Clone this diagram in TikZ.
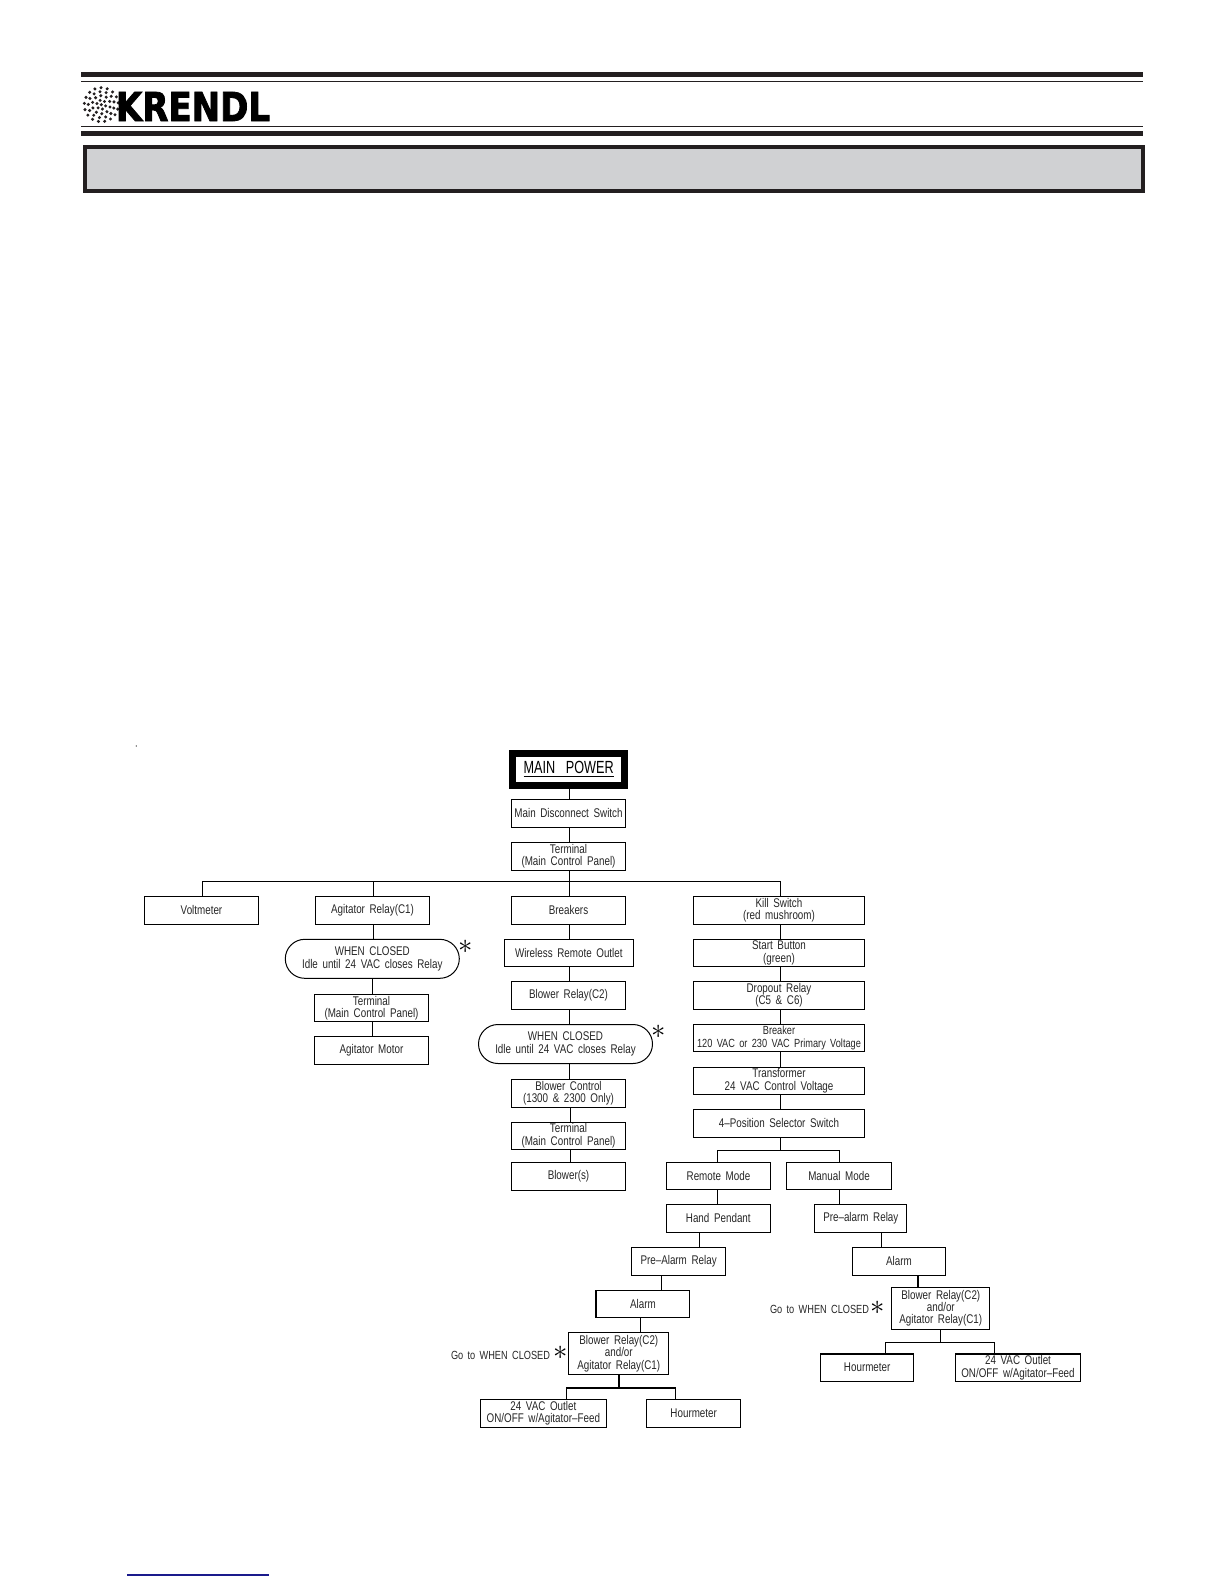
\documentclass[tikz,border=0pt]{standalone}
\usepackage{fontspec}
\usetikzlibrary{shapes.misc}
\setmainfont[FakeStretch=0.78,WordSpace=1.7]{Liberation Sans}
\newfontfamily\titlefont[FakeStretch=0.72,WordSpace=1.5]{Liberation Sans}
\newfontfamily\logofont[FakeStretch=0.85,FakeBold=2]{DejaVu Sans Bold}
\definecolor{barblack}{HTML}{231F20}
\definecolor{panelgray}{HTML}{D0D1D3}
\definecolor{linkblue}{HTML}{1A1A8C}
\tikzset{
  wire/.style={line width=0.55bp,black},
  labeltext/.style={font=\fontsize{6.3bp}{6.2bp}\selectfont,text=black!85,align=center,inner sep=0pt},
  tightfont/.style={font=\fontsize{5.9bp}{6.2bp}\selectfont},
  box/.style 2 args={draw=black,line width=0.55bp,labeltext,minimum width=#1*0.5bp,minimum height=#2*0.5bp},
  capsule/.style={draw=black,line width=0.5bp,labeltext,rounded rectangle,minimum width=174*0.5bp,minimum height=39*0.5bp},
  starmark/.style={font=\fontsize{15bp}{15bp}\selectfont,inner sep=0pt},
}
\begin{document}
\begin{tikzpicture}[x=0.5bp,y=-0.5bp]
  \useasboundingbox (0,0) rectangle (1224,1584);
  % page header
  \fill[barblack] (81,72) rectangle (1143,77);
  \fill[barblack] (81,131) rectangle (1143,136);
  \draw[line width=0.55bp,barblack] (81,81.3) -- (1143,81.3);
  \draw[line width=0.55bp,barblack] (81,126.3) -- (1143,126.3);
  \draw[line width=2bp,barblack,fill=panelgray] (84.7,147) rectangle (1143,191);
  \fill[barblack] (101.3,104.7) circle (1.7);
  \foreach \ring/\num in {4.5/6,9/10,13/13,17/17}
    \foreach \k in {1,...,\num}
      \fill[barblack] ({101.3+\ring*cos(360*\k/\num+15)},{104.7+\ring*sin(360*\k/\num+15)}) circle (1.7);
  \node[font=\logofont\fontsize{20bp}{20bp}\selectfont,text=black,inner sep=0pt] (logo) at (193,106.5) {KRENDL};
  \fill (136.3,746) circle (0.6);
  \draw[line width=0.9bp,linkblue] (127,1575) -- (269,1575);
  % top of the tree
  \node[draw=black,line width=3.5bp,font=\titlefont\fontsize{8.8bp}{8.8bp}\selectfont,inner sep=0pt,minimum width=112.5*0.5bp,minimum height=32*0.5bp] (power) at (568.7,769.5) {\underline{MAIN\ \ POWER}};
  \node[box={114.4}{28.3}] (disc) at (568.5,813.2) {Main Disconnect Switch};
  \node[box={114.4}{28}] (term) at (568.5,856.3) {Terminal\\(Main Control Panel)};
  % first row
  \node[box={114.4}{28}] (volt) at (201.5,910.3) {Voltmeter};
  \node[box={114.4}{28}] (agit) at (372.5,910.3) {Agitator Relay(C1)};
  \node[box={114.4}{28}] (brk) at (568.5,910.3) {Breakers};
  \node[box={171.4}{28}] (kill) at (779,910.3) {Kill Switch\\(red mushroom)};
  % agitator column
  \node[capsule] (wcA) at (372.3,958.8) {WHEN CLOSED\\Idle until 24 VAC closes Relay};
  \node[starmark] (starA) at (465.7,946.7) {$\ast$};
  \node[box={114.4}{27.4}] (termA) at (371.5,1008) {Terminal\\(Main Control Panel)};
  \node[box={114.4}{28}] (motor) at (371.5,1050.3) {Agitator Motor};
  % breaker column
  \node[box={129}{27.4}] (wireless) at (568.8,953) {Wireless Remote Outlet};
  \node[box={114.4}{28}] (blowrel) at (568.5,995.3) {Blower Relay(C2)};
  \node[capsule] (wcB) at (565.5,1044) {WHEN CLOSED\\Idle until 24 VAC closes Relay};
  \node[starmark] (starB) at (659,1032) {$\ast$};
  \node[box={114.4}{28}] (blowctl) at (568.5,1093.3) {Blower Control\\(1300 \& 2300 Only)};
  \node[box={114.4}{27}] (termB) at (568.5,1135.8) {Terminal\\(Main Control Panel)};
  \node[box={114.4}{27.7}] (blowers) at (568.5,1176.2) {Blower(s)};
  % kill switch column
  \node[box={171.4}{27.4}] (start) at (779,953) {Start Button\\(green)};
  \node[box={171.4}{28}] (drop) at (779,995.3) {Dropout Relay\\(C5 \& C6)};
  \node[box={171.4}{27.4},tightfont] (brkr) at (779,1038) {Breaker\\120 VAC or 230 VAC Primary Voltage};
  \node[box={171.4}{27}] (xfmr) at (779,1080.8) {Transformer\\24 VAC Control Voltage};
  \node[box={171.4}{28}] (sel) at (779,1123.3) {4--Position Selector Switch};
  \node[box={104.4}{27}] (rmode) at (718.5,1175.8) {Remote Mode};
  \node[box={105.4}{27}] (mmode) at (839,1175.8) {Manual Mode};
  % remote branch
  \node[box={104}{28}] (hand) at (718.3,1218.3) {Hand Pendant};
  \node[box={94}{28}] (prelL) at (678.6,1261.3) {Pre--Alarm Relay};
  \node[box={93.8}{27.4}] (alarmL) at (642.9,1304) {Alarm};
  \node[box={100}{42.4}] (blockL) at (618.8,1353.5) {Blower Relay(C2)\\and/or\\Agitator Relay(C1)};
  \node[labeltext,tightfont] (gotoL) at (500.5,1355.7) {Go to WHEN CLOSED};
  \node[starmark] (starC) at (560.5,1353.3) {$\ast$};
  \node[box={125.8}{28}] (vacL) at (543.3,1413.3) {24 VAC Outlet\\ON/OFF w/Agitator--Feed};
  \node[box={93.7}{28}] (hourL) at (693.7,1413.3) {Hourmeter};
  % manual branch
  \node[box={92}{28}] (prelR) at (860.8,1218.3) {Pre--alarm Relay};
  \node[box={93}{28}] (alarmR) at (899,1261.3) {Alarm};
  \node[box={98}{42}] (blockR) at (940.8,1308.3) {Blower Relay(C2)\\and/or\\Agitator Relay(C1)};
  \node[labeltext,tightfont] (gotoR) at (819.5,1309.3) {Go to WHEN CLOSED};
  \node[starmark] (starD) at (877.6,1308) {$\ast$};
  \node[box={93.3}{27.3}] (hourR) at (867.2,1367.6) {Hourmeter};
  \node[box={125}{27.3}] (vacR) at (1018,1367.6) {24 VAC Outlet\\ON/OFF w/Agitator--Feed};
  % straight links, with the x of each stem
  \foreach \from/\to/\sx in {power/disc/569.3,disc/term/569.3,agit/wcA/373.3,wcA/termA/372.3,termA/motor/372.3,
      brk/wireless/569.3,wireless/blowrel/569.3,blowrel/wcB/569.3,wcB/blowctl/569.3,blowctl/termB/570.3,termB/blowers/570.3,
      kill/start/780.3,start/drop/780.3,drop/brkr/780.3,brkr/xfmr/780.3,xfmr/sel/780.3,
      rmode/hand/717.8,mmode/prelR/839.3,hand/prelL/699.9,prelL/alarmL/661.5,alarmL/blockL/640.3,
      prelR/alarmR/881.7,alarmR/blockR/918}{
    \coordinate (stem) at (\sx,0);
    \draw[wire] (\from.south -| stem) -- (\to.north -| stem);
  }
  % bus under the terminal
  \coordinate (busL) at (202.3,881.3);
  \coordinate (busR) at (780.3,881.3);
  \draw[wire] (busL) -- (busR);
  \foreach \to/\sx in {volt/202.3,agit/373.3,kill/780.3}{
    \coordinate (stem) at (\sx,0);
    \draw[wire] (stem |- busL) -- (\to.north -| stem);
  }
  \coordinate (stem) at (569.3,0);
  \draw[wire] (term.south -| stem) -- (brk.north -| stem);
  % forks
  \coordinate (forkA) at (780.3,1150.3);
  \draw[wire] (sel.south -| forkA) -- (forkA);
  \coordinate (forkAl) at (717.3,1150.3);
  \coordinate (forkAr) at (839.3,1150.3);
  \draw[wire] (rmode.north -| forkAl) -- (forkAl) -- (forkAr) -- (mmode.north -| forkAr);
  \coordinate (forkB) at (619,1388);
  \draw[wire] (blockL.south -| forkB) -- (forkB);
  \coordinate (forkBl) at (566.5,1388);
  \coordinate (forkBr) at (675.6,1388);
  \draw[wire] (vacL.north -| forkBl) -- (forkBl) -- (forkBr) -- (hourL.north -| forkBr);
  \coordinate (forkC) at (940.5,1342.7);
  \draw[wire] (blockR.south -| forkC) -- (forkC);
  \coordinate (forkCl) at (885.7,1342.7);
  \coordinate (forkCr) at (994.8,1342.7);
  \draw[wire] (hourR.north -| forkCl) -- (forkCl) -- (forkCr) -- (vacR.north -| forkCr);
\end{tikzpicture}
\end{document}
